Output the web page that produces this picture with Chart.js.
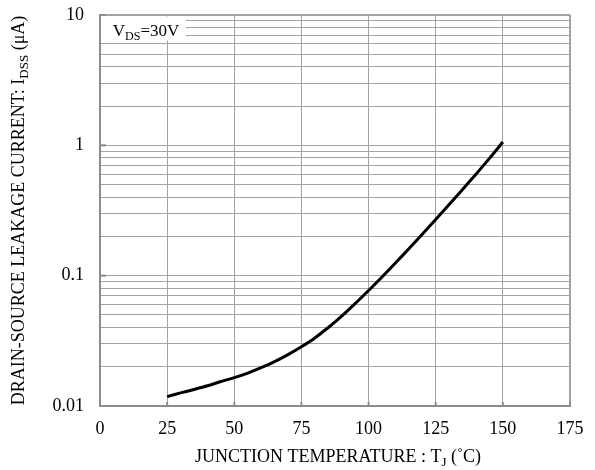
<!DOCTYPE html>
<html>
<head>
<meta charset="utf-8">
<script src="https://cdn.jsdelivr.net/npm/chart.js@4/dist/chart.umd.min.js"></script>
<style>
  html, body { margin: 0; padding: 0; background: #fff; }
  canvas { display: block; }
</style>
</head>
<body>
<canvas id="leakChart" width="595" height="470"></canvas>
<script>
// Junction temperature (°C) and leakage current (µA)
const temps   = [25, 30, 35, 40, 45, 50, 55, 60, 65, 70, 75, 80, 85, 90, 95, 100,
                 105, 110, 115, 120, 125, 130, 135, 140, 145, 150];
const leakage = [0.0118, 0.0126, 0.0134, 0.0143, 0.0154, 0.0165, 0.0179, 0.0197, 0.0219, 0.0248, 0.0285, 0.0333, 0.0400, 0.0490, 0.0610, 0.0769,
                 0.0977, 0.125, 0.161, 0.208, 0.270, 0.351, 0.458, 0.601, 0.794, 1.06];

const xTicks = [0, 25, 50, 75, 100, 125, 150, 175];
const yMajor = [0.01, 0.1, 1, 10];
const yLabels = ['0.01', '0.1', '1', '10'];

const serif = "'Liberation Serif', 'Times New Roman', serif";
const gridColor = '#a3a3a3';
const frameColor = '#8c8c8c';

// draws text pieces, some as subscripts, centred on x
function drawRich(ctx, parts, x, y, size) {
  const subSize = Math.round(size * 0.72);
  let total = 0;
  parts.forEach(p => {
    ctx.font = (p.sub ? subSize : size) + 'px ' + serif;
    p.w = ctx.measureText(p.t).width;
    total += p.w;
  });
  let cx = x - total / 2;
  ctx.textAlign = 'left';
  ctx.textBaseline = 'alphabetic';
  parts.forEach(p => {
    ctx.font = (p.sub ? subSize : size) + 'px ' + serif;
    ctx.fillText(p.t, cx, p.sub ? y + size * 0.22 : y);
    cx += p.w;
  });
}

const annotations = {
  id: 'annotations',
  beforeDatasetsDraw(chart) {
    const ctx = chart.ctx;
    const area = chart.chartArea;
    ctx.save();
    // legend box over the grid
    ctx.fillStyle = '#fff';
    ctx.fillRect(area.left + 1, area.top + 1.5, 85, 24);
    ctx.fillStyle = '#000';
    drawRich(ctx, [{t: 'V'}, {t: 'DS', sub: true}, {t: '=30V'}], area.left + 46, area.top + 21, 17);

    // short inner tick marks
    ctx.strokeStyle = frameColor;
    ctx.lineWidth = 2;
    const ys = chart.scales.y, xs = chart.scales.x;
    yMajor.forEach(v => {
      const py = ys.getPixelForValue(v);
      ctx.beginPath();
      ctx.moveTo(area.left, py);
      ctx.lineTo(area.left + 6, py);
      ctx.stroke();
    });
    xTicks.forEach(v => {
      const px = xs.getPixelForValue(v);
      ctx.beginPath();
      ctx.moveTo(px, area.bottom);
      ctx.lineTo(px, area.bottom - 4);
      ctx.stroke();
    });
    ctx.restore();
  },
  afterDraw(chart) {
    const ctx = chart.ctx;
    const area = chart.chartArea;
    ctx.save();
    ctx.fillStyle = '#000';
    drawRich(ctx, [{t: 'JUNCTION TEMPERATURE : T'}, {t: 'J', sub: true}, {t: ' (\u02DAC)'}],
      (area.left + area.right) / 2 + 3, 462, 18);
    ctx.translate(24, (area.top + area.bottom) / 2);
    ctx.rotate(-Math.PI / 2);
    drawRich(ctx, [{t: 'DRAIN-SOURCE LEAKAGE CURRENT: I'}, {t: 'DSS', sub: true}, {t: ' (\u03BCA)'}],
      0, 0, 18);
    ctx.restore();
  }
};

const ctx = document.getElementById('leakChart').getContext('2d');
new Chart(ctx, {
  type: 'line',
  data: {
    datasets: [{
      data: temps.map((t, i) => ({x: t, y: leakage[i]})),
      borderColor: '#000',
      borderWidth: 3,
      pointRadius: 0,
      tension: 0.3,
      fill: false
    }]
  },
  options: {
    responsive: false,
    animation: false,
    devicePixelRatio: 1,
    layout: { padding: { top: 15, right: 25, left: 0, bottom: 0 } },
    plugins: {
      legend: { display: false },
      tooltip: { enabled: false }
    },
    scales: {
      x: {
        type: 'linear',
        min: 0,
        max: 175,
        afterBuildTicks: s => { s.ticks = xTicks.map(v => ({value: v})); },
        afterFit: s => { s.height = 64; s.paddingLeft = 0; s.paddingRight = 0; },
        ticks: {
          color: '#000',
          font: { family: serif, size: 18 },
          padding: 12,
          maxRotation: 0
        },
        grid: {
          color: gridColor,
          drawTicks: false,
          lineWidth: c => (c.tick && c.tick.value === 175 ? 2 : 1)
        },
        border: { color: frameColor, width: 2 }
      },
      y: {
        type: 'logarithmic',
        min: 0.01,
        max: 10,
        afterBuildTicks: s => {
          const list = [];
          for (let e = -2; e < 1; e++) {
            for (let m = 1; m < 10; m++) list.push(+(m * Math.pow(10, e)).toPrecision(3));
          }
          list.push(10);
          s.ticks = list.map(v => ({value: v}));
        },
        afterFit: s => { s.width = 100; s.paddingTop = 0; s.paddingBottom = 0; },
        ticks: {
          color: '#000',
          font: { family: serif, size: 18 },
          padding: 16,
          autoSkip: false,
          callback: v => {
            const i = yMajor.findIndex(m => Math.abs(m - v) < m * 1e-6);
            return i >= 0 ? yLabels[i] : '';
          }
        },
        grid: {
          color: gridColor,
          drawTicks: false,
          lineWidth: c => (c.tick && c.tick.value === 10 ? 2 : 1)
        },
        border: { color: frameColor, width: 2 }
      }
    }
  },
  plugins: [annotations]
});
</script>
</body>
</html>
